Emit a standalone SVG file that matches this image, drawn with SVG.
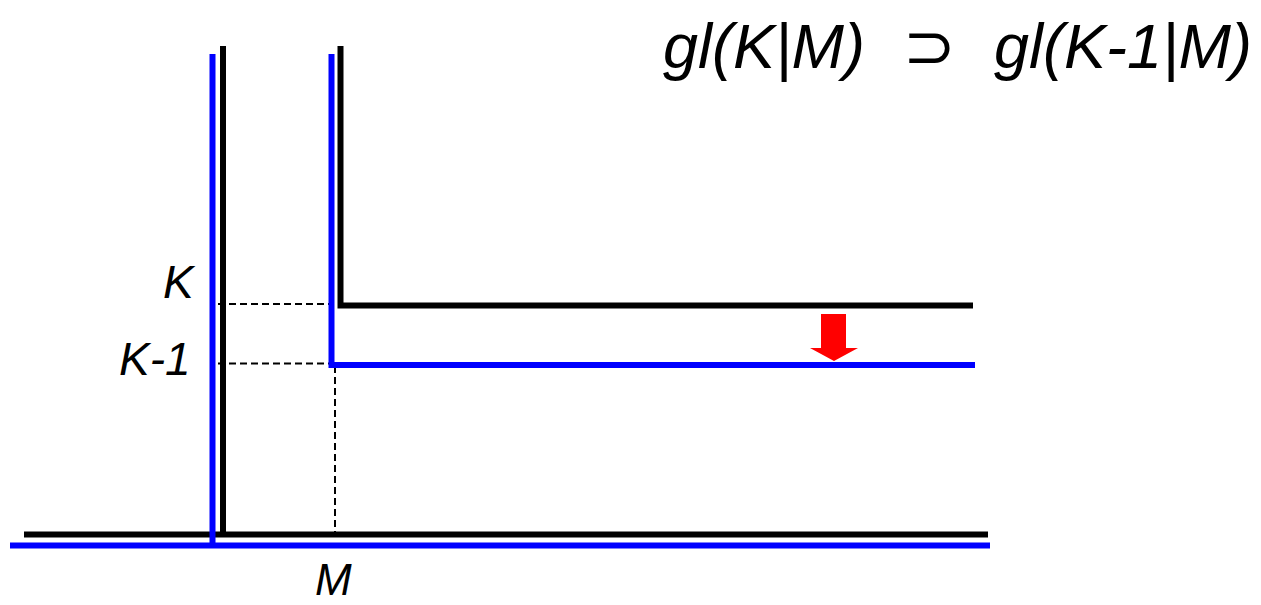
<svg xmlns="http://www.w3.org/2000/svg" width="1261" height="605" viewBox="0 0 1261 605">
<style>
.blk{stroke:#000;stroke-width:6;fill:none}
.blu{stroke:#0000ff;stroke-width:6;fill:none}
.dash{stroke:#000;stroke-width:2;stroke-dasharray:7,4;fill:none}
.lbl{font-family:"Liberation Sans",Arial,sans-serif;font-style:italic;fill:#000}
</style>
<rect width="1261" height="605" fill="#fff"/>
<g id="axes">
<line class="blk" x1="24" y1="534.5" x2="988" y2="534.5"/>
<line class="blk" x1="223" y1="46" x2="223" y2="537"/>
<line class="blu" x1="10" y1="545.5" x2="990" y2="545.5"/>
<line class="blu" x1="212.5" y1="54" x2="212.5" y2="548"/>
</g>
<g id="connectors">
<line class="dash" x1="218" y1="304" x2="334" y2="304"/>
<line class="dash" x1="218" y1="363.5" x2="336" y2="363.5"/>
<line class="dash" x1="335" y1="366" x2="335" y2="532"/>
</g>
<g id="hook-K">
<polyline class="blk" points="340.5,46 340.5,305.5 973,305.5"/>
</g>
<g id="hook-K-1">
<polyline class="blu" points="331.5,54 331.5,365 975,365"/>
</g>
<g id="arrow">
<polygon fill="#ff0000" points="821,314 846,314 846,348 858,348 834,361 810,348 821,348"/>
</g>
<g id="labels">
<text class="lbl" x="163" y="298" font-size="46">K</text>
<text class="lbl" x="119" y="375" font-size="46">K-1</text>
<text class="lbl" x="315" y="595" font-size="44">M</text>
</g>
<g id="title">
<text class="lbl" y="68" font-size="63"><tspan x="663">gl(K|M)</tspan><tspan x="903" font-style="normal" font-family="DejaVu Sans, sans-serif">⊃</tspan><tspan x="994">gl(K-1|M)</tspan></text>
</g>
</svg>
